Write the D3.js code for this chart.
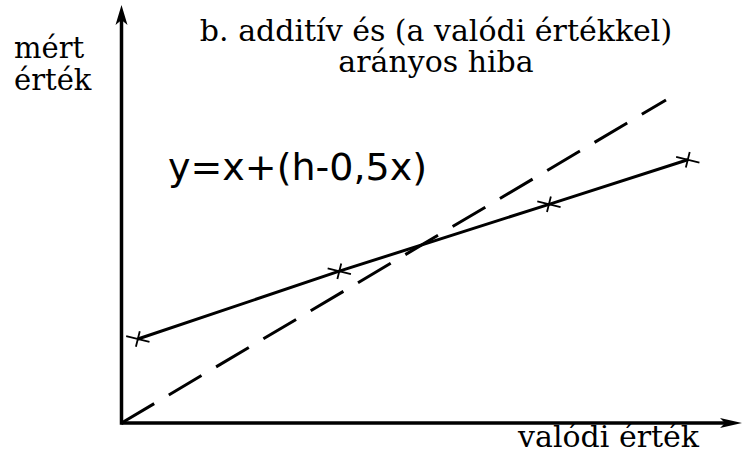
<!DOCTYPE html>
<html>
<head>
<meta charset="utf-8">
<script src="https://cdn.jsdelivr.net/npm/d3@7"></script>
<style>
  html, body { margin: 0; padding: 0; background: #fff; }
</style>
</head>
<body>
<svg id="chart" width="742" height="455"></svg>
<script>
// Ideal response: measured value equals the true value
const idealX = [0, 100];
const idealY = [0, 100];

// Measured response with additive and proportional error
const measuredX = [3, 40, 78.5, 104];
const measuredY = [26, 47, 67.7, 81.5];

const titleLines = ["b.  additív és (a valódi értékkel)", "arányos hiba"];
const yLabelLines = ["mért", "érték"];
const xLabel = "valódi érték";
const formula = "y=x+(h-0,5x)";

const svg = d3.select("#chart");
const ox = 121.5, oy = 423;

const x = d3.scaleLinear().domain([0, 100]).range([ox, 666]);
const y = d3.scaleLinear().domain([0, 100]).range([oy, 100]);

// Axes with arrowheads
const xEnd = 742, yEnd = 5;
svg.append("line")
  .attr("x1", ox).attr("y1", oy).attr("x2", xEnd - 12).attr("y2", oy)
  .attr("stroke", "#000").attr("stroke-width", 3.5);
svg.append("line")
  .attr("x1", ox).attr("y1", oy + 1.75).attr("x2", ox).attr("y2", yEnd + 12)
  .attr("stroke", "#000").attr("stroke-width", 3.5);
svg.append("path")
  .attr("d", `M${xEnd},${oy} L${xEnd - 22},${oy - 5} L${xEnd - 17},${oy} L${xEnd - 22},${oy + 5} Z`)
  .attr("fill", "#000");
svg.append("path")
  .attr("d", `M${ox},${yEnd} L${ox - 6},${yEnd + 20} L${ox},${yEnd + 15} L${ox + 6},${yEnd + 20} Z`)
  .attr("fill", "#000");

// Ideal (dashed) line
const line = d3.line().x(d => x(d[0])).y(d => y(d[1]));
svg.append("path")
  .datum(d3.zip(idealX, idealY))
  .attr("d", line)
  .attr("fill", "none")
  .attr("stroke", "#000")
  .attr("stroke-width", 3)
  .attr("stroke-dasharray", "38,17");

// Measured (solid) line with cross markers
const pts = d3.zip(measuredX, measuredY);
svg.append("path")
  .datum(pts)
  .attr("d", line)
  .attr("fill", "none")
  .attr("stroke", "#000")
  .attr("stroke-width", 3);

svg.selectAll("path.cross")
  .data(pts)
  .join("path")
  .attr("class", "cross")
  .attr("transform", d => `translate(${x(d[0])},${y(d[1])}) rotate(14)`)
  .attr("d", "M-12,0 L12,0 M0,-8 L0,8")
  .attr("stroke", "#000")
  .attr("stroke-width", 1.8)
  .attr("fill", "none");

// Serif labels
function label(txt, xPos, yPos, size, anchor) {
  svg.append("text")
    .attr("x", xPos).attr("y", yPos)
    .attr("text-anchor", anchor)
    .style("font-family", '"DejaVu Serif"')
    .style("font-size", size + "px")
    .attr("fill", "#000")
    .text(txt);
}

// Title: both lines centred on the same axis
label(titleLines[0], 436, 41, 30, "middle");
label(titleLines[1], 436, 72, 30, "middle");
label(yLabelLines[0], 14, 58, 29, "start");
label(yLabelLines[1], 14, 90, 29, "start");
label(xLabel, 699, 447, 30, "end");

svg.append("text")
  .attr("x", 168).attr("y", 180)
  .style("font-family", '"DejaVu Sans"')
  .style("font-size", "38px")
  .attr("fill", "#000")
  .text(formula);
</script>
</body>
</html>
